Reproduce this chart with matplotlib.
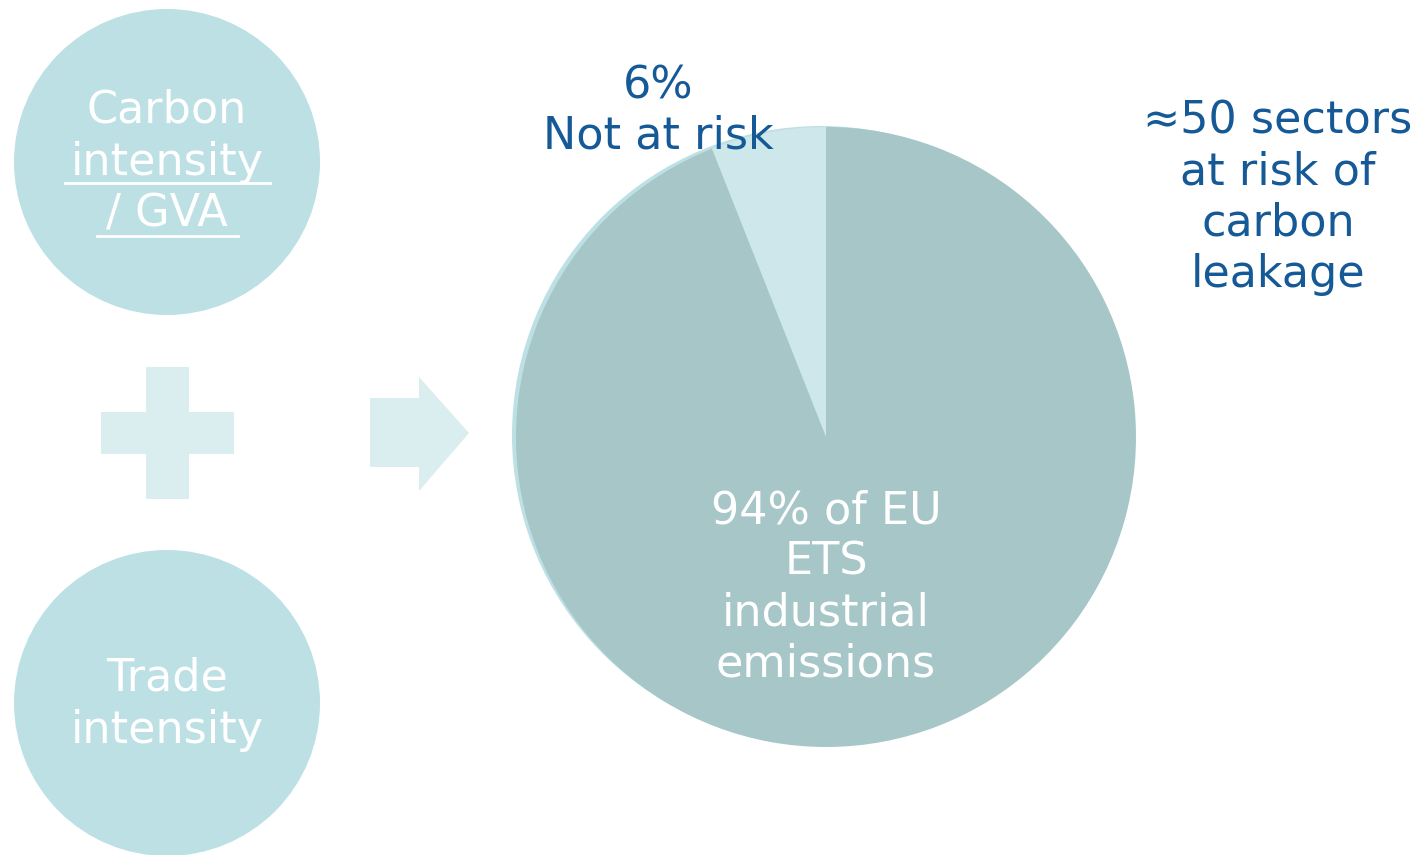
import matplotlib.pyplot as plt
from matplotlib.patches import Circle, Rectangle, Polygon

W, H = 1418, 855

# pie data
shares = [6, 94]
share_colors = ['#cde7ea', '#a6c6c8']

left_top = ['Carbon', 'intensity', '/ GVA']
left_bottom = ['Trade', 'intensity']
small_label = ['6%', 'Not at risk']
big_label = ['94% of EU', 'ETS', 'industrial', 'emissions']
right_label = ['\u224850 sectors', 'at risk of', 'carbon', 'leakage']

CIRCLE = '#bce0e4'
PALE = '#daedef'
BLUE = '#155a96'


def Y(y):
    return H - y


fig = plt.figure(figsize=(W / 100, H / 100), dpi=100)
ax = fig.add_axes([0, 0, 1, 1])
ax.set_xlim(0, W)
ax.set_ylim(0, H)
ax.set_aspect('equal')
ax.axis('off')

# left circles
ax.add_patch(Circle((167, Y(162)), 153, color=CIRCLE, lw=0))
ax.add_patch(Circle((167, Y(703)), 153, color=CIRCLE, lw=0))

fs = 32
for i, t in enumerate(left_top):
    ax.text(167, Y(110 + 52 * i), t, color='white', fontsize=fs,
            ha='center', va='center')
ax.plot([65, 270], [Y(183), Y(183)], color='white', lw=2)
ax.plot([97, 238], [Y(236), Y(236)], color='white', lw=2)
for i, t in enumerate(left_bottom):
    ax.text(167, Y(678 + 52 * i), t, color='white', fontsize=fs,
            ha='center', va='center')

# plus sign
ax.add_patch(Rectangle((101, Y(454)), 133, 42, color=PALE, lw=0))
ax.add_patch(Rectangle((146, Y(499)), 43, 132, color=PALE, lw=0))

# arrow
ax.add_patch(Polygon([(370, Y(398)), (419, Y(398)), (419, Y(377)),
                      (469, Y(433)), (419, Y(491)), (419, Y(467)),
                      (370, Y(467))], closed=True, color=PALE, lw=0))

# pie with pale backing
ax.add_patch(Circle((821, Y(435)), 309, color=CIRCLE, lw=0))
ax.pie(shares, colors=share_colors, startangle=90, counterclock=True,
       center=(826, Y(437)), radius=310, frame=True,
       wedgeprops=dict(linewidth=0))
ax.set_xlim(0, W)
ax.set_ylim(0, H)
ax.axis('off')

for i, t in enumerate(small_label):
    ax.text(658, Y(86 + 50 * i), t, color=BLUE, fontsize=fs,
            ha='center', va='center')
for i, t in enumerate(big_label):
    ax.text(826, Y(511 + 51 * i), t, color='white', fontsize=fs,
            ha='center', va='center')
for i, t in enumerate(right_label):
    ax.text(1278, Y(121 + 51 * i), t, color=BLUE, fontsize=fs,
            ha='center', va='center')

fig.savefig('out.png', dpi=100, facecolor='white')
